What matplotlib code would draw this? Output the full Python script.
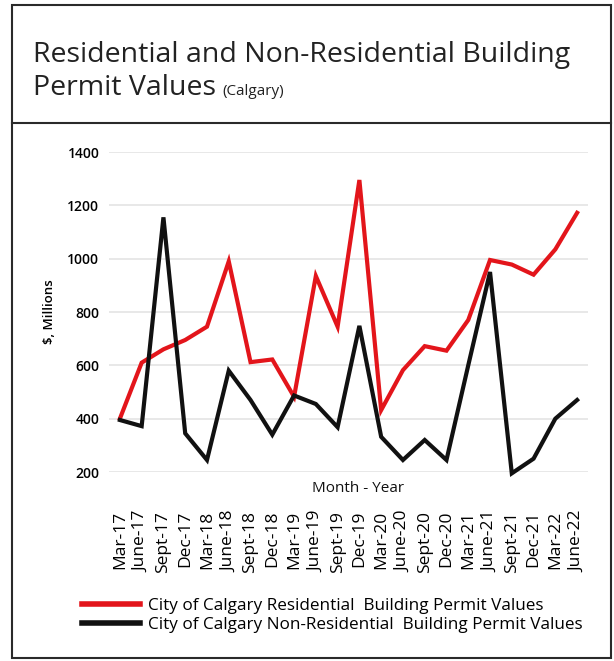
import matplotlib
matplotlib.use("Agg")
import matplotlib.pyplot as plt
from matplotlib.lines import Line2D

# data ($ millions)
months = ["Mar-17", "June-17", "Sept-17", "Dec-17", "Mar-18", "June-18", "Sept-18",
          "Dec-18", "Mar-19", "June-19", "Sept-19", "Dec-19", "Mar-20", "June-20",
          "Sept-20", "Dec-20", "Mar-21", "June-21", "Sept-21", "Dec-21", "Mar-22", "June-22"]
residential = [400, 610, 660, 695, 745, 990, 612, 622, 482, 935, 745, 1295,
               432, 582, 672, 655, 770, 995, 978, 940, 1035, 1172]
non_residential = [395, 372, 1155, 345, 245, 580, 470, 340, 487, 455, 368, 748,
                   332, 245, 320, 245, 600, 950, 195, 250, 400, 470]
yticks = [200, 400, 600, 800, 1000, 1200, 1400]

W, H = 614, 661
fig = plt.figure(figsize=(W / 100, H / 100), dpi=100)
fig.patch.set_facecolor("white")

# outer frame and divider under the title
frame = plt.Rectangle((12 / W, 3 / H), 599 / W, 653 / H, transform=fig.transFigure,
                      fill=False, edgecolor="#2a2a2a", linewidth=1.5)
fig.add_artist(frame)
fig.add_artist(Line2D([12 / W, 611 / W], [1 - 123 / H, 1 - 123 / H],
                      transform=fig.transFigure, color="#2a2a2a", linewidth=1.5))

# title
title_font = "Open Sans"
fig.text(33 / W, 1 - 62 / H, "Residential and Non-Residential Building",
         fontsize=20.5, family=title_font, color="#222222", va="baseline")
t2 = fig.text(33 / W, 1 - 95 / H, "Permit Values", fontsize=20.5, family=title_font,
              color="#222222", va="baseline")
fig.canvas.draw()
bb = t2.get_window_extent()
fig.text((bb.x1 + 6) / W, 1 - 95 / H, "(Calgary)", fontsize=11, family=title_font,
         color="#222222", va="baseline")

# chart
ax = fig.add_axes([109 / W, 1 - 472 / H, 479 / W, 320 / H])
x = list(range(len(months)))
ax.plot(x, residential, color="#e3151b", linewidth=3, clip_on=False, zorder=3,
        solid_joinstyle="miter")
ax.plot(x, non_residential, color="#111111", linewidth=3, clip_on=False, zorder=3,
        solid_joinstyle="miter")

ax.set_xlim(-0.5, len(months) - 0.5)
ax.set_ylim(200, 1400)
ax.set_yticks(yticks)
ax.set_yticklabels([str(v) for v in yticks], fontsize=10, fontweight="semibold",
                   family="Open Sans")
ax.set_xticks(x)
ax.set_xticklabels(months, rotation=90, fontsize=12.5, family="Open Sans")
ax.tick_params(axis="both", length=0)
ax.tick_params(axis="y", pad=7)
ax.tick_params(axis="x", pad=28)
for s in ax.spines.values():
    s.set_visible(False)
ax.grid(axis="y", color="#e4e4e4", linewidth=1.2)
ax.set_axisbelow(True)
ax.set_ylabel("$, Millions", fontsize=9.5, fontweight="semibold", family="Open Sans",
              labelpad=8)

fig.text(358 / W, 1 - 488 / H, "Month - Year", fontsize=11, family="Open Sans",
         ha="center", va="center", color="#111111")

# legend
ax.legend([Line2D([], [], color="#e3151b", linewidth=4),
           Line2D([], [], color="#111111", linewidth=4)],
          ["City of Calgary Residential  Building Permit Values",
           "City of Calgary Non-Residential  Building Permit Values"],
          loc="upper left", bbox_to_anchor=(82 / W, 1 - 598 / H),
          bbox_transform=fig.transFigure, frameon=False, handlelength=3.4,
          handletextpad=0.45, labelspacing=0.2, borderpad=0, borderaxespad=0,
          prop={"family": "Open Sans", "size": 12.3})

fig.savefig("out.png", dpi=100)
